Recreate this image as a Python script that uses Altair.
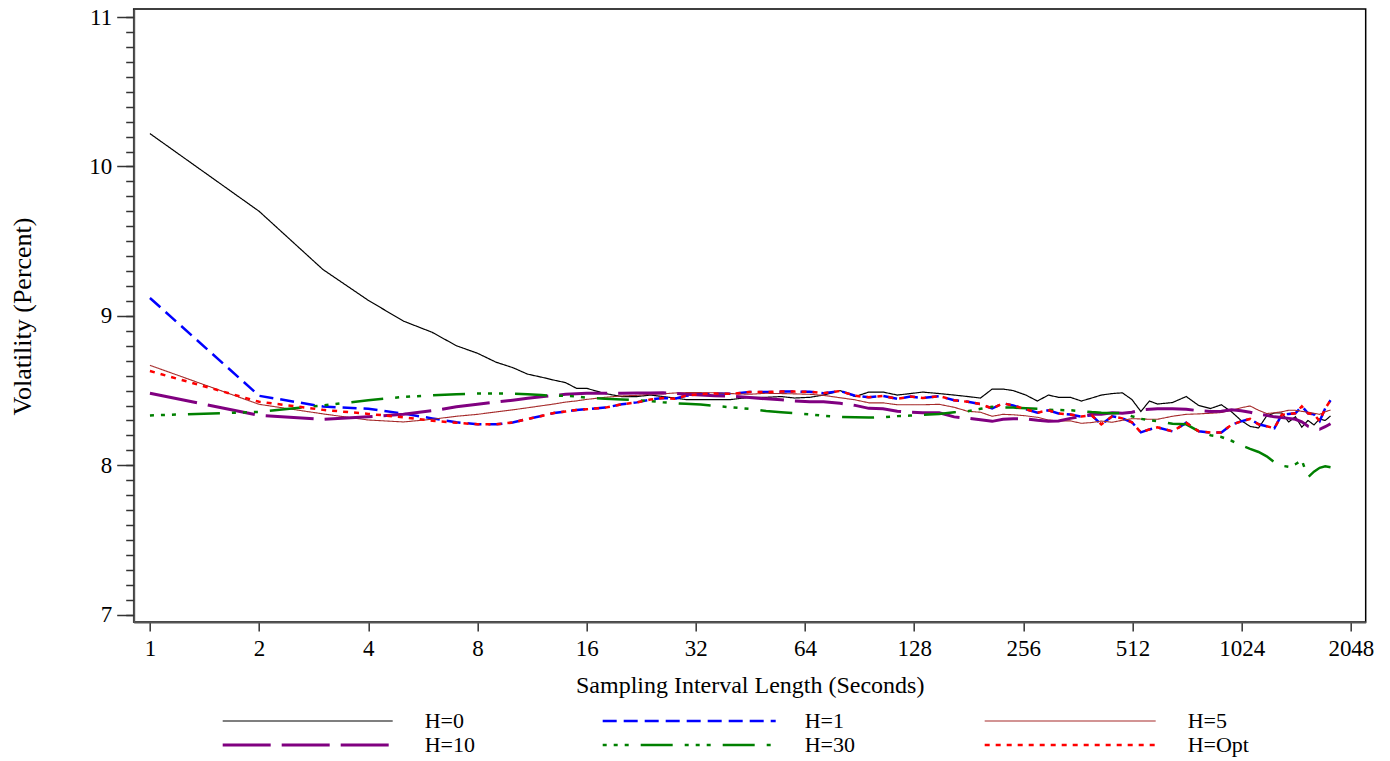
import altair as alt
import pandas as pd

seconds = [1, 2, 3, 4, 5, 6, 7, 8, 9, 10, 11, 12, 13, 14, 15, 16, 18, 20, 22, 24,
           26, 28, 30, 33, 36, 40, 45, 50, 55, 60, 66, 72, 80, 88, 96, 105, 115, 125, 135, 150,
           165, 180, 195, 210, 225, 240, 260, 280, 300, 320, 345, 370, 395, 420, 450, 480, 510, 540, 570, 600,
           660, 720, 780, 840, 900, 960, 1020, 1080, 1140, 1200, 1260, 1320, 1380, 1440, 1500, 1560, 1620, 1680, 1740, 1800]

h0 = [10.22, 9.70, 9.31, 9.104, 8.965, 8.89, 8.80, 8.75, 8.69, 8.654, 8.61, 8.59, 8.57, 8.553, 8.515, 8.515, 8.48, 8.46, 8.46, 8.47,
      8.46, 8.45, 8.44, 8.44, 8.44, 8.44, 8.455, 8.455, 8.46, 8.45, 8.455, 8.47, 8.50, 8.46, 8.49, 8.49, 8.47, 8.48, 8.49, 8.48,
      8.47, 8.46, 8.45, 8.51, 8.51, 8.50, 8.47, 8.43, 8.47, 8.455, 8.455, 8.43, 8.45, 8.47, 8.48, 8.485, 8.44, 8.36, 8.43, 8.41,
      8.42, 8.46, 8.40, 8.38, 8.405, 8.358, 8.30, 8.26, 8.25, 8.33, 8.35, 8.35, 8.29, 8.325, 8.255, 8.30, 8.27, 8.31, 8.30, 8.33]

h1 = [9.12, 8.465, 8.393, 8.378, 8.346, 8.314, 8.288, 8.274, 8.274, 8.286, 8.31, 8.33, 8.35, 8.36, 8.37, 8.375, 8.386, 8.408, 8.421, 8.44,
      8.45, 8.445, 8.465, 8.477, 8.48, 8.478, 8.49, 8.49, 8.493, 8.493, 8.492, 8.482, 8.497, 8.465, 8.455, 8.464, 8.445, 8.46, 8.45, 8.463,
      8.435, 8.425, 8.41, 8.38, 8.415, 8.40, 8.375, 8.352, 8.368, 8.347, 8.34, 8.326, 8.334, 8.274, 8.328, 8.314, 8.288, 8.22, 8.24, 8.254,
      8.227, 8.284, 8.227, 8.219, 8.22, 8.271, 8.294, 8.31, 8.274, 8.261, 8.248, 8.338, 8.344, 8.348, 8.395, 8.348, 8.341, 8.296, 8.38, 8.435]

h5 = [8.669, 8.408, 8.344, 8.303, 8.29, 8.308, 8.328, 8.341, 8.357, 8.371, 8.385, 8.398, 8.41, 8.423, 8.431, 8.441, 8.455, 8.464, 8.468, 8.475,
      8.478, 8.484, 8.486, 8.486, 8.485, 8.48, 8.475, 8.482, 8.48, 8.478, 8.475, 8.468, 8.452, 8.438, 8.418, 8.418, 8.405, 8.405, 8.405, 8.408,
      8.388, 8.361, 8.355, 8.328, 8.341, 8.338, 8.331, 8.321, 8.303, 8.297, 8.297, 8.281, 8.286, 8.296, 8.288, 8.301, 8.312, 8.31, 8.308, 8.308,
      8.328, 8.341, 8.344, 8.348, 8.353, 8.368, 8.385, 8.397, 8.368, 8.346, 8.351, 8.358, 8.368, 8.368, 8.361, 8.355, 8.348, 8.341, 8.358, 8.37]

h10 = [8.482, 8.334, 8.308, 8.324, 8.341, 8.365, 8.391, 8.408, 8.423, 8.435, 8.448, 8.458, 8.468, 8.475, 8.478, 8.482, 8.482, 8.482, 8.484, 8.484,
       8.485, 8.482, 8.475, 8.47, 8.466, 8.462, 8.453, 8.445, 8.438, 8.43, 8.425, 8.425, 8.415, 8.401, 8.381, 8.378, 8.361, 8.355, 8.352, 8.351,
       8.324, 8.315, 8.304, 8.294, 8.308, 8.312, 8.311, 8.301, 8.294, 8.297, 8.314, 8.326, 8.341, 8.341, 8.351, 8.348, 8.355, 8.37, 8.375, 8.379,
       8.379, 8.375, 8.365, 8.36, 8.361, 8.371, 8.365, 8.355, 8.342, 8.334, 8.324, 8.32, 8.314, 8.308, 8.291, 8.261, 8.247, 8.241, 8.258, 8.278]

h30 = [8.334, 8.357, 8.401, 8.435, 8.458, 8.468, 8.475, 8.48, 8.48, 8.48, 8.475, 8.47, 8.465, 8.465, 8.46, 8.453, 8.446, 8.441, 8.436, 8.43,
       8.421, 8.416, 8.411, 8.406, 8.398, 8.388, 8.378, 8.363, 8.355, 8.348, 8.341, 8.331, 8.324, 8.321, 8.319, 8.321, 8.329, 8.333, 8.338, 8.344,
       8.355, 8.361, 8.378, 8.391, 8.388, 8.386, 8.381, 8.378, 8.371, 8.37, 8.368, 8.363, 8.356, 8.351, 8.348, 8.351, 8.328, 8.311, 8.301, 8.296,
       8.278, 8.274, 8.227, 8.201, 8.189, 8.164, 8.134, 8.11, 8.089, 8.06, 8.02, 7.997, 7.99, 8.007, 8.033, 7.92, 7.957, 7.983, 7.993, 7.987]

hopt = [8.631, 8.425, 8.371, 8.344, 8.321, 8.298, 8.285, 8.274, 8.274, 8.286, 8.31, 8.33, 8.35, 8.36, 8.37, 8.375, 8.386, 8.408, 8.421, 8.44,
        8.45, 8.445, 8.465, 8.477, 8.48, 8.478, 8.49, 8.49, 8.493, 8.493, 8.492, 8.482, 8.497, 8.465, 8.455, 8.464, 8.445, 8.46, 8.45, 8.463,
        8.435, 8.425, 8.41, 8.38, 8.415, 8.40, 8.375, 8.352, 8.368, 8.347, 8.34, 8.326, 8.334, 8.274, 8.328, 8.314, 8.288, 8.22, 8.24, 8.254,
        8.227, 8.284, 8.227, 8.219, 8.22, 8.271, 8.294, 8.31, 8.274, 8.261, 8.248, 8.338, 8.344, 8.348, 8.395, 8.348, 8.341, 8.296, 8.38, 8.435]

series_names = ["H=0", "H=1", "H=5", "H=10", "H=30", "H=Opt"]
series_values = [h0, h1, h5, h10, h30, hopt]
x_tick_values = [1, 2, 4, 8, 16, 32, 64, 128, 256, 512, 1024, 2048]
y_tick_values = [7, 8, 9, 10, 11]

colors = ["#000000", "#0000ff", "#a52a2a", "#800080", "#008000", "#ff0000"]
widths = [1.2, 2.5, 1.1, 3, 2.5, 2.5]
dashes = [[1, 0], [14, 7], [1, 0], [48, 11], [4, 7, 4, 7, 4, 12, 32, 12], [5, 6]]

FONT = "Liberation Serif"
W, H = 1232, 613

rows = []
for name, vals in zip(series_names, series_values):
    for s, v in zip(seconds, vals):
        rows.append({"s": s, "v": v, "series": name})
df = pd.DataFrame(rows)

xscale = alt.Scale(type="log", base=2, domain=[0.902, 2250], nice=False)
yscale = alt.Scale(domain=[6.951, 11.054], nice=False, zero=False)

x_axis = alt.Axis(values=x_tick_values, format="d", tickSize=9, labelPadding=7,
                  title="Sampling Interval Length (Seconds)", titleX=W / 2, titleY=64,
                  titleBaseline="middle", titleFontSize=24, grid=False)
y_axis = alt.Axis(values=y_tick_values, format="d", tickSize=17, labelPadding=5, orient="left",
                  title="Volatility (Percent)", titleX=-111.5, titleY=307, titleAngle=-90,
                  titleBaseline="middle", titleAlign="center", titleFontSize=26, grid=False)
minor_vals = [round(7 + 0.1 * i, 1) for i in range(41)]
y_minor = alt.Axis(values=minor_vals, tickSize=8, labels=False, domain=False, title=None,
                   orient="left", grid=False)

layers = []
for i, name in enumerate(series_names):
    if i == 0:
        xa, ya = x_axis, y_axis
    elif i == 1:
        xa, ya = None, y_minor
    else:
        xa, ya = None, None
    layers.append(
        alt.Chart(df).transform_filter(alt.datum.series == name)
        .mark_line(color=colors[i], strokeWidth=widths[i], strokeDash=dashes[i])
        .encode(x=alt.X("s:Q", scale=xscale, axis=xa),
                y=alt.Y("v:Q", scale=yscale, axis=ya))
    )

# legend (2 rows x 3 columns) below the plot
leg_cols = [(89, 259, 291), (469, 642, 671), (851, 1022, 1054)]
leg_rows = [712, 736]
for i, name in enumerate(series_names):
    r, c = divmod(i, 3)
    x1, x2, xl = leg_cols[c]
    yy = leg_rows[r]
    ld = pd.DataFrame({"label": [name]})
    layers.append(
        alt.Chart(ld).mark_rule(color=colors[i], strokeWidth=widths[i], strokeDash=dashes[i])
        .encode(x=alt.value(x1), x2=alt.value(x2), y=alt.value(yy))
    )
    layers.append(
        alt.Chart(ld).mark_text(align="left", baseline="middle", font=FONT, fontSize=22, color="black")
        .encode(x=alt.value(xl), y=alt.value(yy), text="label:N")
    )

chart = (
    alt.layer(*layers)
    .resolve_axis(x="independent", y="independent")
    .properties(width=W, height=H,
                autosize=alt.AutoSizeParams(type="none"),
                padding={"left": 125.7, "top": 1, "right": 16, "bottom": 138})
    .configure_view(stroke="#000000", strokeWidth=1.5)
    .configure_axis(domainColor="#555555", domainWidth=2, tickColor="#333333", tickWidth=1.5,
                    labelFont=FONT, labelFontSize=23, labelColor="#000000",
                    titleFont=FONT, titleFontSize=22, titleFontWeight="normal", titleColor="#000000")
)

chart.save("out.html", embed_options={"renderer": "svg", "actions": False})
